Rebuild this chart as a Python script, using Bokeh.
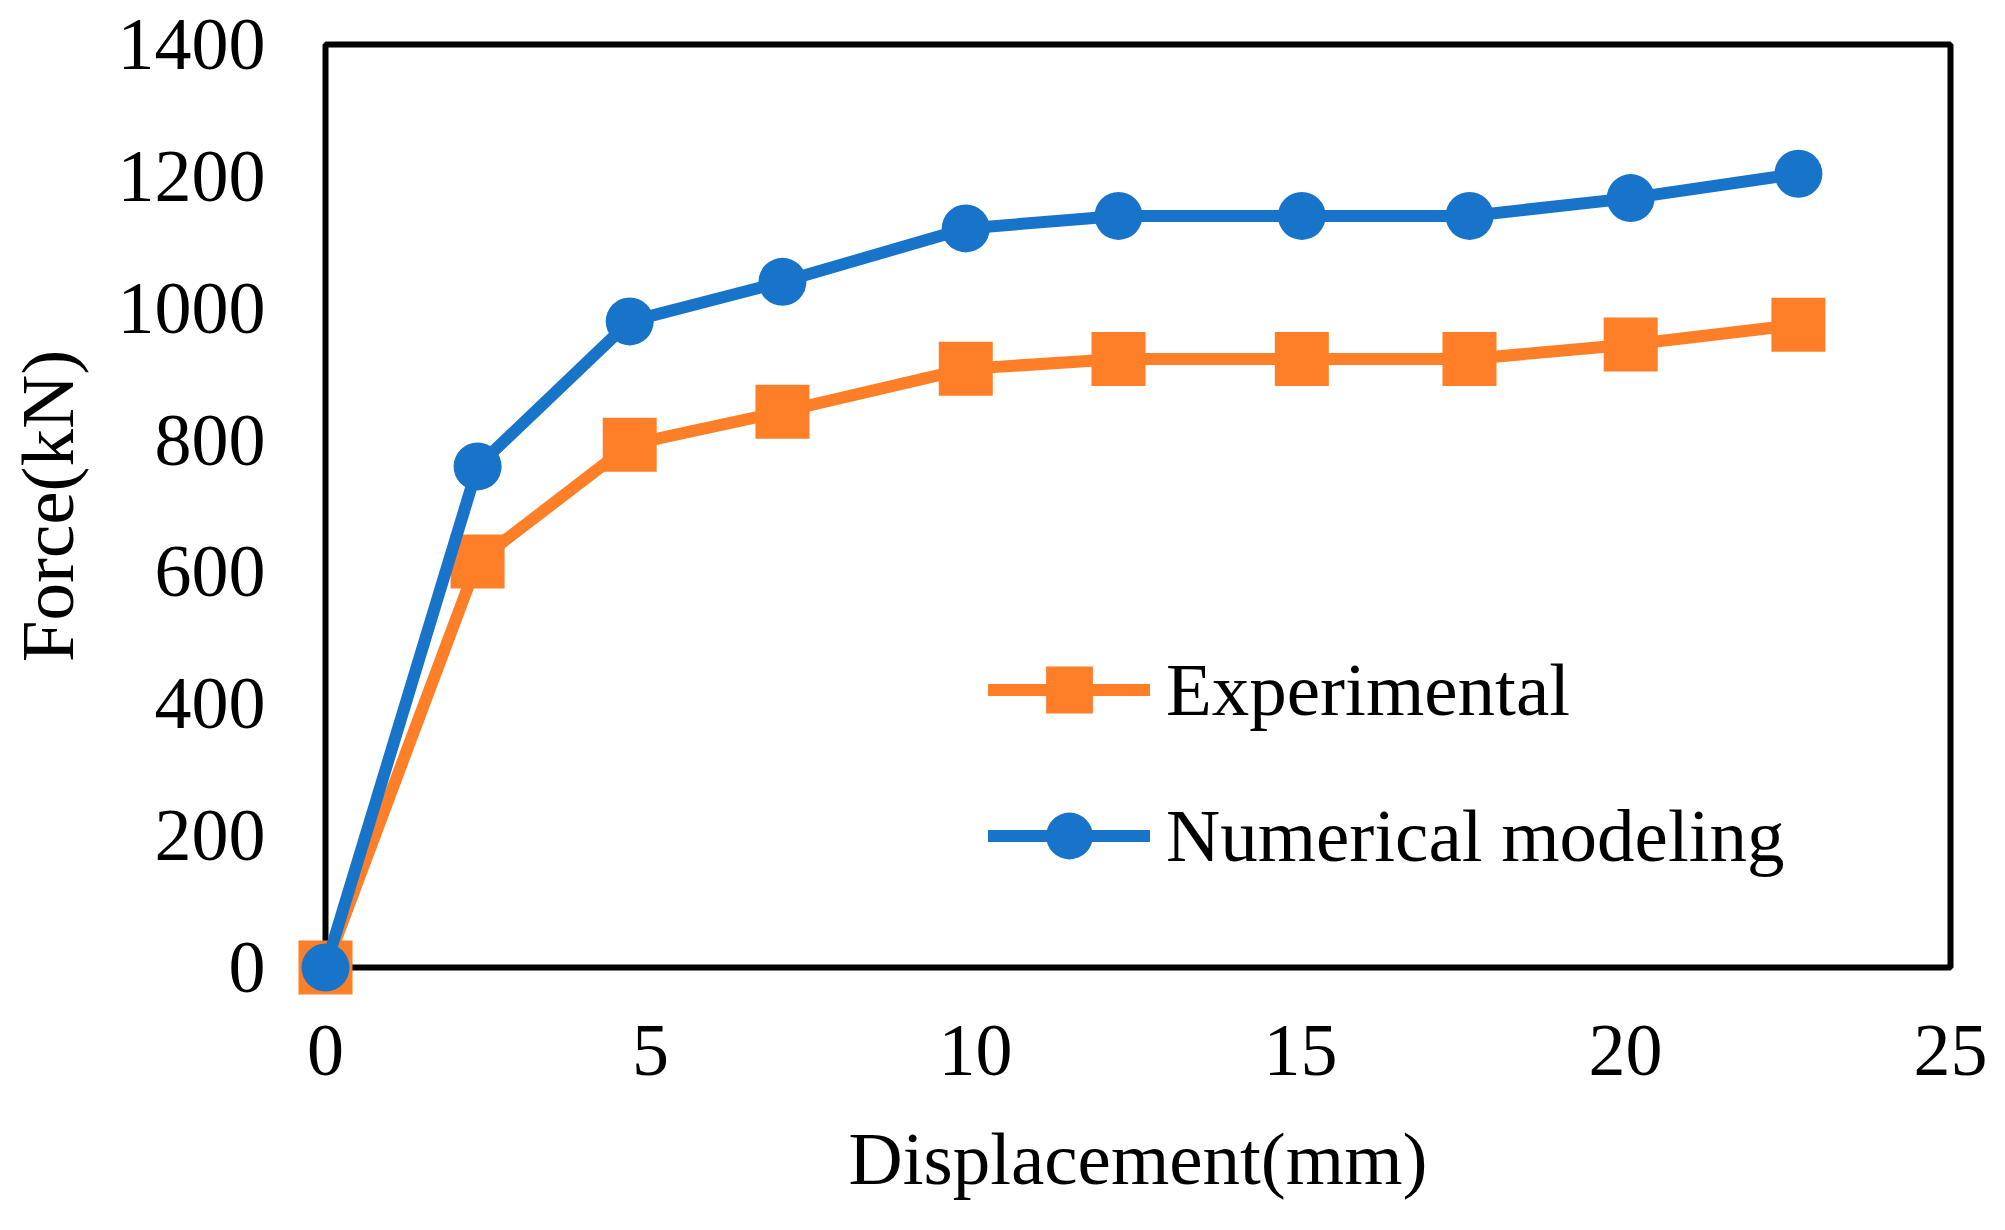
from bokeh.plotting import figure
from bokeh.models import (Range1d, FixedTicker, Legend, LegendItem, ColumnDataSource,
                          BoxAnnotation)
from bokeh.embed import file_html
from bokeh.resources import INLINE

# ---- data ----
displacement = [0, 2.34, 4.68, 7.03, 9.85, 12.2, 15.02, 17.6, 20.08, 22.66]
experimental = [0, 616, 793, 843, 908, 923, 923, 923, 945, 975]
numerical = [0, 760, 980, 1040, 1121, 1140, 1140, 1140, 1167, 1204]
x_ticks = [0, 5, 10, 15, 20, 25]
y_ticks = [0, 200, 400, 600, 800, 1000, 1200, 1400]
series_names = ["Experimental", "Numerical modeling"]
x_title = "Displacement(mm)"
y_title = "Force(kN)"

X_MIN, X_MAX = 0, 25
Y_MIN, Y_MAX = 0, 1400

ORANGE = "#FE7F27"
BLUE = "#1874C9"
FONT = "Liberation Serif"

# ---- layout (pixels) ----
W, H = 1989, 1214
BOX_L, BOX_R, BOX_T, BOX_B = 325, 1950, 44, 967      # plotted box in figure pixels
PAD_X, PAD_Y = 35, 30                                 # symmetric frame margin so edge markers are not clipped
FR_L, FR_R, FR_T, FR_B = BOX_L - PAD_X, BOX_R + PAD_X, BOX_T - PAD_Y, BOX_B + PAD_Y

xs = (BOX_R - BOX_L) / (X_MAX - X_MIN)
ys = (BOX_B - BOX_T) / (Y_MAX - Y_MIN)

p = figure(width=W, height=H, output_backend="svg", toolbar_location=None,
           x_range=Range1d(X_MIN - PAD_X / xs, X_MAX + PAD_X / xs),
           y_range=Range1d(Y_MIN - PAD_Y / ys, Y_MAX + PAD_Y / ys),
           min_border_left=FR_L, min_border_right=W - FR_R,
           min_border_top=FR_T, min_border_bottom=H - FR_B)

p.background_fill_color = "white"
p.border_fill_color = "white"
p.outline_line_color = None
p.grid.visible = False

for ax in (p.xaxis[0], p.yaxis[0]):
    ax.axis_line_color = None
    ax.major_tick_line_color = None
    ax.minor_tick_line_color = None
    ax.major_tick_out = 0
    ax.major_tick_in = 0
    ax.major_label_text_font = FONT
    ax.major_label_text_font_size = "74px"
    ax.major_label_text_color = "black"
    ax.axis_label_text_font = FONT
    ax.axis_label_text_font_size = "75px"
    ax.axis_label_text_font_style = "normal"
    ax.axis_label_text_color = "black"

p.xaxis.ticker = FixedTicker(ticks=x_ticks)
p.yaxis.ticker = FixedTicker(ticks=y_ticks)
p.xaxis.major_label_standoff = 28
p.yaxis.major_label_standoff = 25
p.xaxis.axis_label = x_title
p.xaxis.axis_label_standoff = 39
p.yaxis.axis_label = y_title
p.yaxis.axis_label_standoff = 26

# plot box (axes frame) drawn at the data limits
p.add_layout(BoxAnnotation(left=X_MIN, right=X_MAX, bottom=Y_MIN, top=Y_MAX,
                           fill_alpha=0, line_color="black", line_alpha=1.0, line_width=6,
                           level="underlay"))

src = ColumnDataSource(dict(x=displacement, exp=experimental, num=numerical))

l1 = p.line("x", "exp", source=src, line_color=ORANGE, line_width=12, line_cap="round", line_join="round")
m1 = p.scatter("x", "exp", source=src, marker="square", size=54, fill_color=ORANGE, line_color=None)
l2 = p.line("x", "num", source=src, line_color=BLUE, line_width=12, line_cap="round", line_join="round")
m2 = p.scatter("x", "num", source=src, marker="circle", size=48, fill_color=BLUE, line_color=None)

legend = Legend(items=[LegendItem(label=series_names[0], renderers=[l1, m1]),
                       LegendItem(label=series_names[1], renderers=[l2, m2])],
                location=(698, 103), orientation="vertical",
                glyph_width=162, glyph_height=117, spacing=29,
                label_standoff=16, padding=0, margin=0,
                border_line_color=None, background_fill_alpha=0,
                label_text_font=FONT, label_text_font_size="75px",
                label_text_color="black")
p.add_layout(legend, "center")

open("out.html", "w").write(file_html(p, INLINE))
